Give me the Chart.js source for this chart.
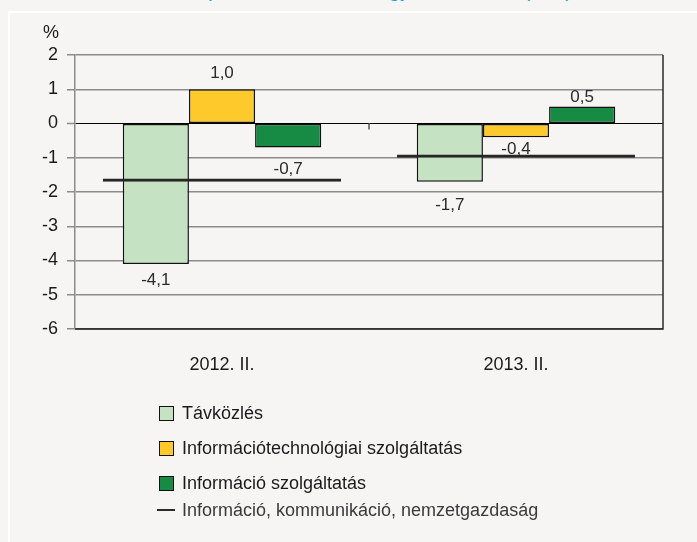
<!DOCTYPE html>
<html>
<head>
<meta charset="utf-8">
<script src="https://cdn.jsdelivr.net/npm/chart.js@4"></script>
<style>
  html, body { margin:0; padding:0; width:697px; height:542px; overflow:hidden; background:#f6f5f3; font-family:"Liberation Sans", Arial, sans-serif; }
  #panel { position:absolute; left:8px; top:11px; right:0; bottom:0; border-left:2px solid #ffffff; border-top:2px solid #ffffff; background:#f6f5f3; }
  #title { position:absolute; white-space:nowrap; color:#1ba3dd; font-family:"Liberation Sans", Arial, sans-serif; line-height:1; }
  #wrap { position:absolute; left:0; top:0; width:697px; height:542px; }
  #unit { position:absolute; left:43px; top:23px; font-size:18px; line-height:18px; color:#1a1a1a; }
  .leg { position:absolute; left:159px; height:20px; display:flex; align-items:center; font-size:18px; color:#1a1a1a; white-space:nowrap; }
  .box { width:13px; height:13px; border:1.5px solid #111; margin-right:8px; }
  .ln { width:18px; height:2px; background:#2a2a2a; margin-right:7px; margin-left:-2px; }
</style>
</head>
<body>
<div id="panel"></div>
<div id="title">(előző év azonos negyedévéhez képest)</div>
<div id="wrap"><canvas id="c" width="697" height="542"></canvas></div>
<div id="unit">%</div>
<div id="legend"></div>
<script>
// ---- data ----
const categories = ['2012. II.', '2013. II.'];
const seriesNames = ['Távközlés', 'Információtechnológiai szolgáltatás', 'Információ szolgáltatás', 'Információ, kommunikáció, nemzetgazdaság'];
const tavkozles = [-4.1, -1.7];
const itSzolgaltatas = [1.0, -0.4];
const infoSzolgaltatas = [-0.7, 0.5];
const nemzetgazdasag = [-1.7, -1.0];
const yMin = -6, yMax = 2, yStep = 1;

// ---- styles ----
const barColors = ['#c5e3c3', '#fec92a', '#178a43'];
const lineColor = '#262626';

// title fitting
(function(){
  const t = document.getElementById('title');
  let fs = 20;
  t.style.fontSize = fs + 'px';
  const w = t.offsetWidth;
  fs = fs * 367 / w;
  t.style.fontSize = fs + 'px';
  const w2 = t.offsetWidth;
  t.style.left = (388.5 - w2 / 2) + 'px';
  t.style.top = (-2.5 - 0.8465 * fs) + 'px';
})();

// legend
(function(){
  const lg = document.getElementById('legend');
  const tops = [403, 438, 473, 500];
  seriesNames.forEach((n, i) => {
    const d = document.createElement('div');
    d.className = 'leg';
    d.style.top = tops[i] + 'px';
    const s = document.createElement('span');
    if (i < 3) { s.className = 'box'; s.style.background = barColors[i]; }
    else { s.className = 'ln'; d.style.color = '#3a3a3a'; }
    d.appendChild(s);
    const tx = document.createElement('span');
    tx.textContent = n;
    d.appendChild(tx);
    lg.appendChild(d);
  });
})();

const fmt = v => v.toFixed(1).replace('.', ',');

const labelPlugin = {
  id: 'valueLabels',
  afterDatasetDraw(chart, args) {
    const ds = chart.data.datasets[args.index];
    if (!ds.showValues) return;
    const ctx = chart.ctx;
    ctx.save();
    ctx.font = '17px "Liberation Sans", Arial, sans-serif';
    ctx.fillStyle = '#2a2a2a';
    ctx.textAlign = 'center';
    ctx.textBaseline = 'middle';
    args.meta.data.forEach((el, i) => {
      const v = ds.data[i];
      const off = ds.labelOffset ? ds.labelOffset[i] : 16;
      const y = v >= 0 ? el.y - off : el.y + off;
      ctx.fillText(fmt(v), el.x, y);
    });
    ctx.restore();
  }
};

const framePlugin = {
  id: 'frame',
  afterDraw(chart) {
    const {ctx, chartArea: a, scales} = chart;
    ctx.save();
    ctx.strokeStyle = '#2a2a2a';
    ctx.lineWidth = 1.5;
    ctx.beginPath();
    ctx.moveTo(a.right, a.top);
    ctx.lineTo(a.right, a.bottom);
    ctx.lineTo(a.left, a.bottom);
    ctx.stroke();
    // category boundary ticks on zero line
    const x = scales.x, y0 = scales.y.getPixelForValue(0);
    ctx.strokeStyle = '#555555';
    ctx.lineWidth = 1.5;
    for (let i = 0; i < categories.length - 1; i++) {
      const bx = (x.getPixelForValue(i) + x.getPixelForValue(i + 1)) / 2;
      ctx.beginPath();
      ctx.moveTo(bx, y0);
      ctx.lineTo(bx, y0 + 6);
      ctx.stroke();
    }
    ctx.restore();
  }
};

const barBase = { borderColor: '#111111', borderWidth: 1.5, borderSkipped: false, categoryPercentage: 0.675, barPercentage: 1, order: 1, showValues: true };

new Chart(document.getElementById('c'), {
  type: 'bar',
  data: {
    labels: categories,
    datasets: [
      Object.assign({ label: seriesNames[0], data: tavkozles, backgroundColor: barColors[0], labelOffset: [16, 24] }, barBase),
      Object.assign({ label: seriesNames[1], data: itSzolgaltatas, backgroundColor: barColors[1], labelOffset: [16, 12] }, barBase),
      Object.assign({ label: seriesNames[2], data: infoSzolgaltatas, backgroundColor: barColors[2], labelOffset: [22, 9] }, barBase),
      {
        label: seriesNames[3], data: nemzetgazdasag,
        grouped: false, categoryPercentage: 0.81, barPercentage: 1,
        backgroundColor: 'rgba(0,0,0,0)', borderColor: lineColor,
        borderWidth: { top: 0, left: 0, right: 0, bottom: 3 }, borderSkipped: false,
        order: 0
      }
    ]
  },
  options: {
    responsive: false,
    animation: false,
    events: [],
    layout: { padding: { left: 0, top: 55, right: 34, bottom: 0 } },
    plugins: { legend: { display: false }, tooltip: { enabled: false }, title: { display: false } },
    scales: {
      x: {
        offset: true,
        grid: { display: false, drawTicks: false },
        border: { display: false },
        ticks: { color: '#1a1a1a', font: { family: '"Liberation Sans", Arial, sans-serif', size: 18 }, padding: 25 },
        afterFit(s) { s.height = 213; }
      },
      y: {
        min: yMin, max: yMax,
        ticks: { stepSize: yStep, color: '#1a1a1a', padding: 9, font: { family: '"Liberation Sans", Arial, sans-serif', size: 18 }, callback: v => String(v) },
        grid: {
          color: c => c.tick.value === 0 ? '#000000' : (c.tick.value === yMin ? '#555555' : '#8c8c8c'),
          lineWidth: c => c.tick.value === 0 ? 1 : 1.5,
          tickLength: 8, tickColor: '#8c8c8c', tickWidth: 1.5
        },
        border: { color: '#8c8c8c', width: 1.5 },
        afterFit(s) { s.width = 75; }
      }
    }
  },
  plugins: [labelPlugin, framePlugin]
});
</script>
</body>
</html>
